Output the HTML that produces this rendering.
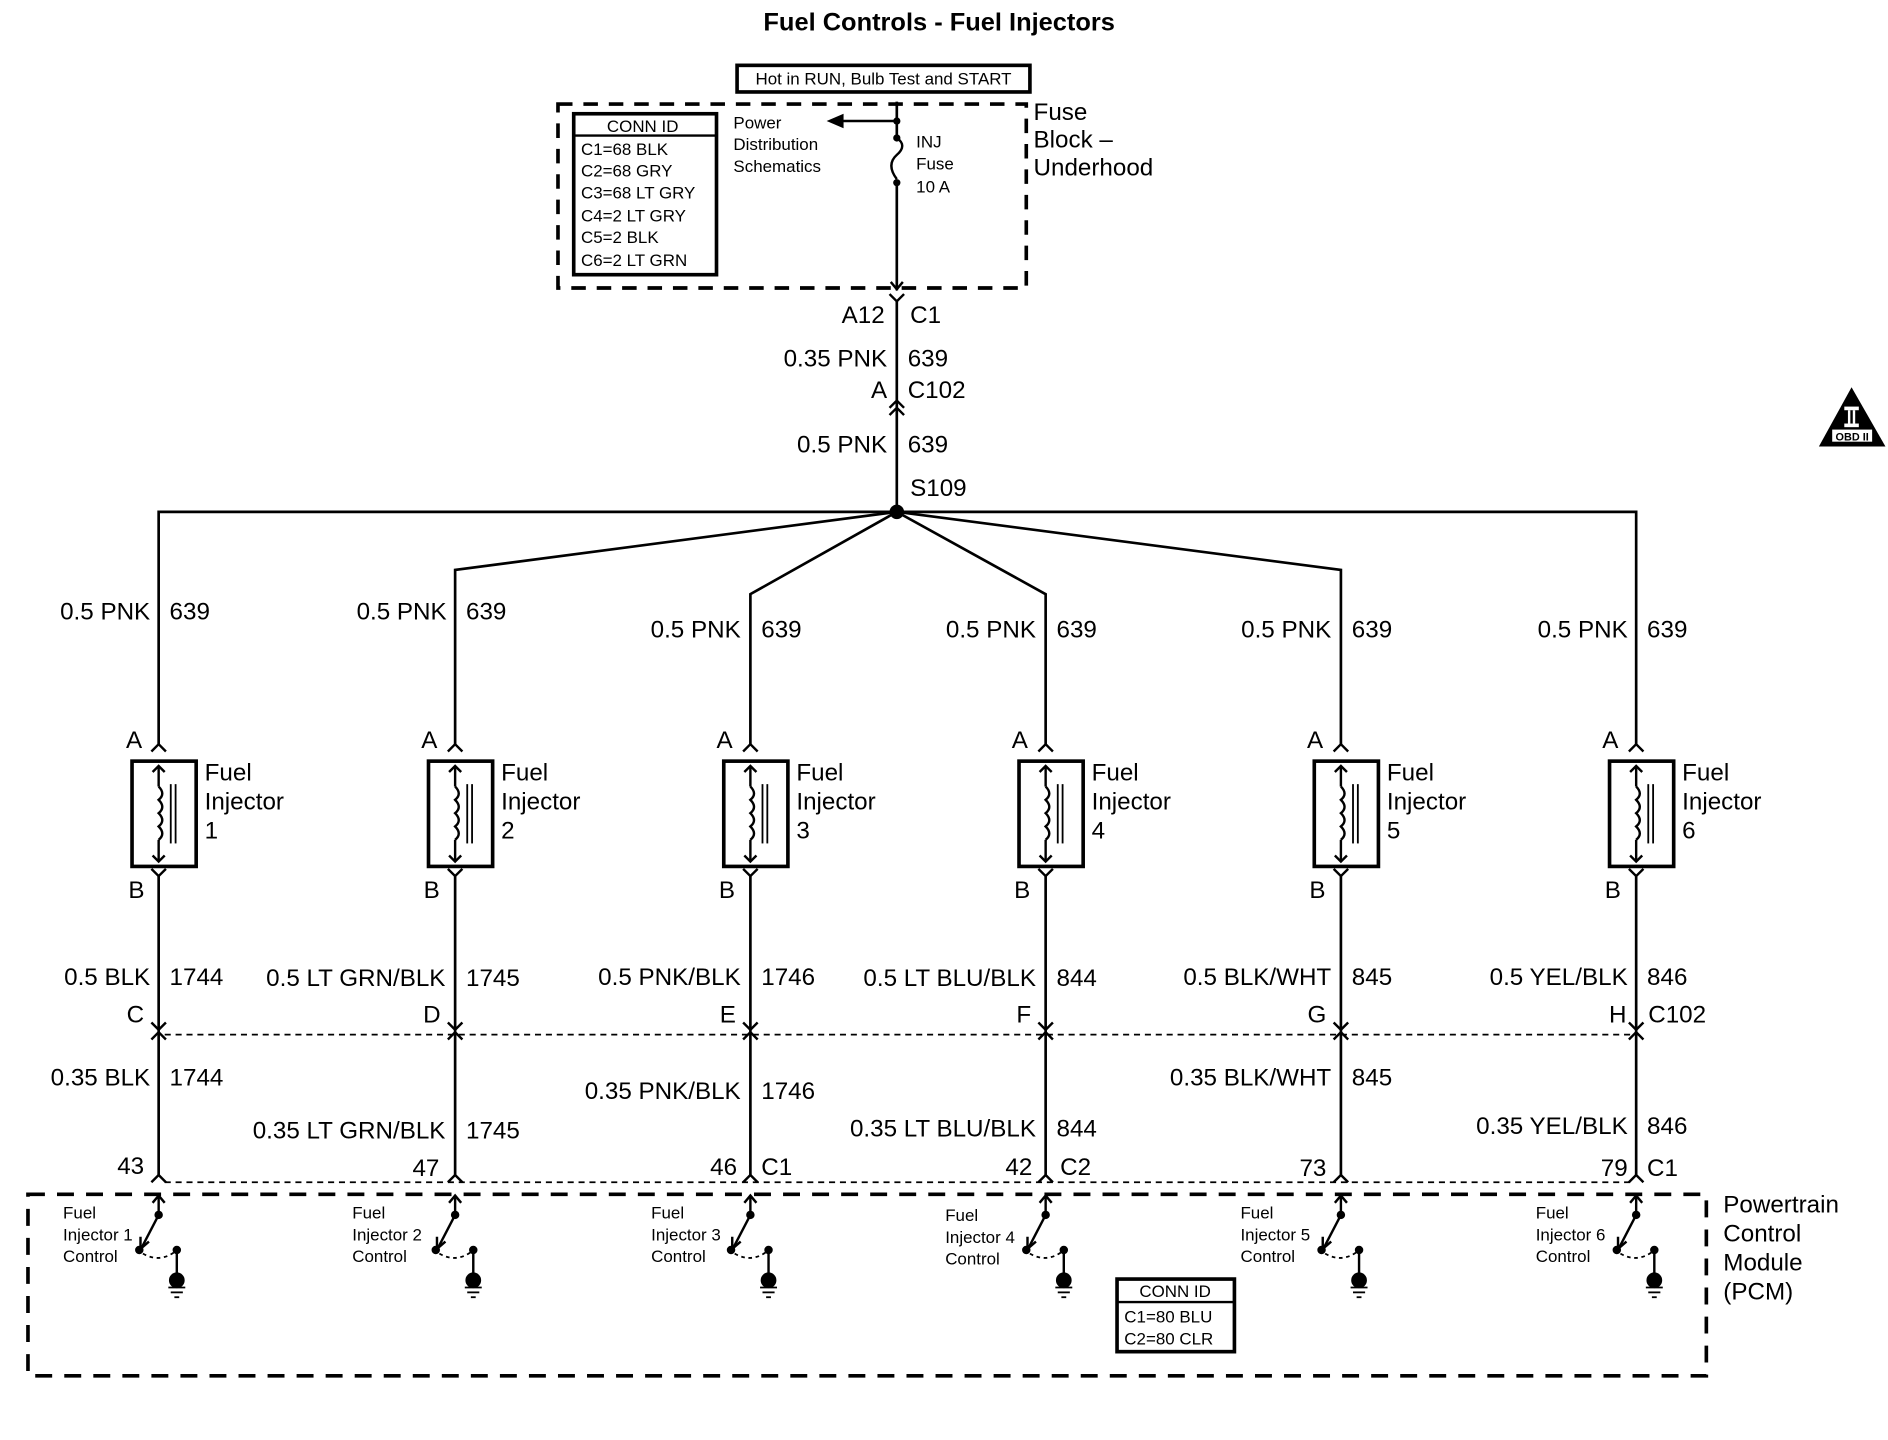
<!DOCTYPE html>
<html><head><meta charset="utf-8"><style>
html,body{margin:0;padding:0;background:#fff;}
svg{display:block;}
text{font-family:"Liberation Sans",Arial,sans-serif;fill:#000;}
.l{font-size:20px;}
.s{font-size:14px;}
.r{text-anchor:end;}
</style></head><body>
<svg width="1888" height="1440" viewBox="0 0 1560 1190" xmlns="http://www.w3.org/2000/svg">
<defs>
<g id="inj" fill="none" stroke="#000">
  <polyline points="-6,621 0,615 6,621" stroke-width="2"/>
  <rect x="-22" y="629" width="53" height="87" stroke-width="3"/>
  <line x1="0" y1="633" x2="0" y2="650" stroke-width="2"/>
  <polyline points="-5,638 0,633 5,638" stroke-width="2"/>
  <path d="M0,650 q6,6 0,11 q6,6 0,11 q6,6 0,11 q6,6 0,11" stroke-width="2"/>
  <line x1="0" y1="694" x2="0" y2="712" stroke-width="2"/>
  <polyline points="-5,707 0,712 5,707" stroke-width="2"/>
  <line x1="10" y1="648" x2="10" y2="697" stroke-width="1.5"/>
  <line x1="14" y1="648" x2="14" y2="697" stroke-width="1.5"/>
  <polyline points="-6,718 0,724 6,718" stroke-width="2"/>
  <line x1="0" y1="724" x2="0" y2="971" stroke-width="2.2"/>
  <polyline points="-6,845 0,851 6,845" stroke-width="2"/>
  <polyline points="-6,859 0,853 6,859" stroke-width="2"/>
  <polyline points="-6,977 0,971 6,977" stroke-width="2"/>
  <polyline points="-5,994 0,988 5,994" stroke-width="2"/>
  <line x1="0" y1="988" x2="0" y2="1004" stroke-width="2"/>
  <circle cx="0" cy="1004" r="3" fill="#000"/>
  <line x1="0" y1="1004" x2="-14" y2="1031" stroke-width="2"/>
  <polyline points="-15,1022 -15,1032 -8,1026" stroke-width="2"/>
  <circle cx="-16" cy="1033" r="3" fill="#000"/>
  <path d="M-13,1036 q14,8 27,-2" stroke-width="1.5" stroke-dasharray="3,3"/>
  <circle cx="15" cy="1033" r="3" fill="#000"/>
  <line x1="15" y1="1033" x2="15" y2="1056" stroke-width="2"/>
  <circle cx="15" cy="1058" r="6" fill="#000"/>
  <line x1="8" y1="1064" x2="22" y2="1064" stroke-width="1.5"/>
  <line x1="10" y1="1068" x2="20" y2="1068" stroke-width="1.5"/>
  <line x1="13" y1="1072" x2="17" y2="1072" stroke-width="1.5"/>
</g>
</defs>

<text x="776" y="25" text-anchor="middle" style="font-size:21px;font-weight:bold">Fuel Controls - Fuel Injectors</text>

<rect x="609" y="54" width="242" height="22" fill="none" stroke="#000" stroke-width="3"/>
<text x="730" y="70" text-anchor="middle" class="s">Hot in RUN, Bulb Test and START</text>

<rect x="461" y="86" width="387" height="152" fill="none" stroke="#000" stroke-width="3" stroke-dasharray="12,9"/>
<rect x="474" y="94" width="118" height="133" fill="none" stroke="#000" stroke-width="3"/>
<line x1="474" y1="112" x2="592" y2="112" stroke="#000" stroke-width="2"/>
<text x="531" y="109" text-anchor="middle" class="s">CONN ID</text>
<text x="480" y="128" class="s">C1=68 BLK</text>
<text x="480" y="146" class="s">C2=68 GRY</text>
<text x="480" y="164" class="s">C3=68 LT GRY</text>
<text x="480" y="183" class="s">C4=2 LT GRY</text>
<text x="480" y="201" class="s">C5=2 BLK</text>
<text x="480" y="220" class="s">C6=2 LT GRN</text>
<text x="606" y="106" class="s">Power</text>
<text x="606" y="124" class="s">Distribution</text>
<text x="606" y="142" class="s">Schematics</text>
<line x1="741" y1="84" x2="741" y2="113" stroke="#000" stroke-width="2.2"/>
<line x1="741" y1="100" x2="695" y2="100" stroke="#000" stroke-width="2"/>
<polygon points="683,100 697,94 697,106" fill="#000"/>
<circle cx="741" cy="100" r="3" fill="#000"/>
<circle cx="741" cy="114" r="3" fill="#000"/>
<path d="M741,114 q9,6 0,14 q-9,8 0,20" fill="none" stroke="#000" stroke-width="2"/>
<circle cx="741" cy="151" r="3" fill="#000"/>
<line x1="741" y1="151" x2="741" y2="240" stroke="#000" stroke-width="2.2"/>
<polyline points="736,233 741,239 746,233" fill="none" stroke="#000" stroke-width="2"/>
<text x="757" y="122" class="s">INJ</text>
<text x="757" y="140" class="s">Fuse</text>
<text x="757" y="159" class="s">10 A</text>
<text x="854" y="99" class="l">Fuse</text>
<text x="854" y="122" class="l">Block –</text>
<text x="854" y="145" class="l">Underhood</text>

<polyline points="735,243 741,249 747,243" fill="none" stroke="#000" stroke-width="2"/>
<line x1="741" y1="249" x2="741" y2="423" stroke="#000" stroke-width="2.2"/>
<text x="731" y="267" class="l r">A12</text>
<text x="752" y="267" class="l">C1</text>
<text x="733" y="303" class="l r">0.35 PNK</text>
<text x="750" y="303" class="l">639</text>
<text x="733" y="329" class="l r">A</text>
<text x="750" y="329" class="l">C102</text>
<polyline points="735,337 741,331 747,337" fill="none" stroke="#000" stroke-width="2"/>
<polyline points="735,343 741,337 747,343" fill="none" stroke="#000" stroke-width="2"/>
<text x="733" y="374" class="l r">0.5 PNK</text>
<text x="750" y="374" class="l">639</text>
<text x="752" y="410" class="l">S109</text>

<g fill="none" stroke="#000" stroke-width="2.2">
<polyline points="131,615 131,423 1352,423 1352,615"/>
<polyline points="376,615 376,471 741,423 1108,471 1108,615"/>
<polyline points="620,615 620,491 741,423 864,491 864,615"/>
</g>
<circle cx="741" cy="423" r="6" fill="#000"/>

<g fill="none" stroke="#000" stroke-width="1.5" stroke-dasharray="5,4">
<line x1="136" y1="855" x2="1347" y2="855"/>
<line x1="136" y1="977" x2="1347" y2="977"/>
</g>
<rect x="23" y="987" width="1387" height="150" fill="none" stroke="#000" stroke-width="3" stroke-dasharray="14,10"/>

<use href="#inj" transform="translate(131,0)"/>
<use href="#inj" transform="translate(376,0)"/>
<use href="#inj" transform="translate(620,0)"/>
<use href="#inj" transform="translate(864,0)"/>
<use href="#inj" transform="translate(1108,0)"/>
<use href="#inj" transform="translate(1352,0)"/>

<!-- top wire labels -->
<text x="124" y="512" class="l r">0.5 PNK</text><text x="140" y="512" class="l">639</text>
<text x="369" y="512" class="l r">0.5 PNK</text><text x="385" y="512" class="l">639</text>
<text x="612" y="527" class="l r">0.5 PNK</text><text x="629" y="527" class="l">639</text>
<text x="856" y="527" class="l r">0.5 PNK</text><text x="873" y="527" class="l">639</text>
<text x="1100" y="527" class="l r">0.5 PNK</text><text x="1117" y="527" class="l">639</text>
<text x="1345" y="527" class="l r">0.5 PNK</text><text x="1361" y="527" class="l">639</text>

<!-- A / B / names -->
<g class="l">
<text x="104" y="618">A</text><text x="106" y="742">B</text>
<text x="348" y="618">A</text><text x="350" y="742">B</text>
<text x="592" y="618">A</text><text x="594" y="742">B</text>
<text x="836" y="618">A</text><text x="838" y="742">B</text>
<text x="1080" y="618">A</text><text x="1082" y="742">B</text>
<text x="1324" y="618">A</text><text x="1326" y="742">B</text>
</g>
<g class="l">
<text x="169" y="645">Fuel</text><text x="169" y="669">Injector</text><text x="169" y="693">1</text>
<text x="414" y="645">Fuel</text><text x="414" y="669">Injector</text><text x="414" y="693">2</text>
<text x="658" y="645">Fuel</text><text x="658" y="669">Injector</text><text x="658" y="693">3</text>
<text x="902" y="645">Fuel</text><text x="902" y="669">Injector</text><text x="902" y="693">4</text>
<text x="1146" y="645">Fuel</text><text x="1146" y="669">Injector</text><text x="1146" y="693">5</text>
<text x="1390" y="645">Fuel</text><text x="1390" y="669">Injector</text><text x="1390" y="693">6</text>
</g>

<!-- lower wire labels -->
<text x="124" y="814" class="l r">0.5 BLK</text><text x="140" y="814" class="l">1744</text>
<text x="368" y="815" class="l r">0.5 LT GRN/BLK</text><text x="385" y="815" class="l">1745</text>
<text x="612" y="814" class="l r">0.5 PNK/BLK</text><text x="629" y="814" class="l">1746</text>
<text x="856" y="815" class="l r">0.5 LT BLU/BLK</text><text x="873" y="815" class="l">844</text>
<text x="1100" y="814" class="l r">0.5 BLK/WHT</text><text x="1117" y="814" class="l">845</text>
<text x="1345" y="814" class="l r">0.5 YEL/BLK</text><text x="1361" y="814" class="l">846</text>

<text x="119" y="845" class="l r">C</text>
<text x="364" y="845" class="l r">D</text>
<text x="608" y="845" class="l r">E</text>
<text x="852" y="845" class="l r">F</text>
<text x="1096" y="845" class="l r">G</text>
<text x="1344" y="845" class="l r">H</text>
<text x="1362" y="845" class="l">C102</text>

<text x="124" y="897" class="l r">0.35 BLK</text><text x="140" y="897" class="l">1744</text>
<text x="368" y="941" class="l r">0.35 LT GRN/BLK</text><text x="385" y="941" class="l">1745</text>
<text x="612" y="908" class="l r">0.35 PNK/BLK</text><text x="629" y="908" class="l">1746</text>
<text x="856" y="939" class="l r">0.35 LT BLU/BLK</text><text x="873" y="939" class="l">844</text>
<text x="1100" y="897" class="l r">0.35 BLK/WHT</text><text x="1117" y="897" class="l">845</text>
<text x="1345" y="937" class="l r">0.35 YEL/BLK</text><text x="1361" y="937" class="l">846</text>

<text x="119" y="970" class="l r">43</text>
<text x="363" y="972" class="l r">47</text>
<text x="609" y="971" class="l r">46</text><text x="629" y="971" class="l">C1</text>
<text x="853" y="971" class="l r">42</text><text x="876" y="971" class="l">C2</text>
<text x="1096" y="972" class="l r">73</text>
<text x="1345" y="972" class="l r">79</text><text x="1361" y="972" class="l">C1</text>

<!-- PCM control labels -->
<g class="s">
<text x="52" y="1007">Fuel</text><text x="52" y="1025">Injector 1</text><text x="52" y="1043">Control</text>
<text x="291" y="1007">Fuel</text><text x="291" y="1025">Injector 2</text><text x="291" y="1043">Control</text>
<text x="538" y="1007">Fuel</text><text x="538" y="1025">Injector 3</text><text x="538" y="1043">Control</text>
<text x="781" y="1009">Fuel</text><text x="781" y="1027">Injector 4</text><text x="781" y="1045">Control</text>
<text x="1025" y="1007">Fuel</text><text x="1025" y="1025">Injector 5</text><text x="1025" y="1043">Control</text>
<text x="1269" y="1007">Fuel</text><text x="1269" y="1025">Injector 6</text><text x="1269" y="1043">Control</text>
</g>

<rect x="923" y="1057" width="97" height="60" fill="none" stroke="#000" stroke-width="3"/>
<line x1="923" y1="1076" x2="1020" y2="1076" stroke="#000" stroke-width="2"/>
<text x="971" y="1072" text-anchor="middle" class="s">CONN ID</text>
<text x="929" y="1093" class="s">C1=80 BLU</text>
<text x="929" y="1111" class="s">C2=80 CLR</text>

<g class="l">
<text x="1424" y="1002">Powertrain</text>
<text x="1424" y="1026">Control</text>
<text x="1424" y="1050">Module</text>
<text x="1424" y="1074">(PCM)</text>
</g>

<!-- OBD II -->
<polygon points="1530,320 1503,369 1558,369" fill="#000"/>
<rect x="1524" y="336" width="12" height="3" fill="#fff"/>
<rect x="1524" y="350" width="12" height="3" fill="#fff"/>
<rect x="1527" y="339" width="2" height="11" fill="#fff"/>
<rect x="1531" y="339" width="2" height="11" fill="#fff"/>
<rect x="1514" y="355" width="33" height="10" fill="#fff"/>
<text x="1530.5" y="364" text-anchor="middle" style="font-size:9px;font-weight:bold">OBD II</text>
</svg>
</body></html>
